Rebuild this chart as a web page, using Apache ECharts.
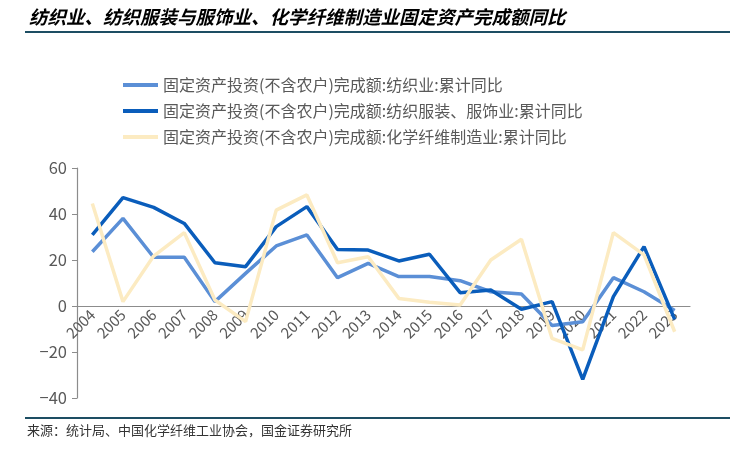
<!DOCTYPE html>
<html>
<head>
<meta charset="utf-8">
<script src="https://cdn.jsdelivr.net/npm/echarts@6/dist/echarts.min.js"></script>
<style>
html,body{margin:0;padding:0;background:#fff;}
#chart{width:747px;height:461px;}
</style>
</head>
<body>
<div id="chart"></div>
<script>
var categories = ['2004','2005','2006','2007','2008','2009','2010','2011','2012','2013','2014','2015','2016','2017','2018','2019','2020','2021','2022','2023'];
var textile = [23.6,38.1,21.2,21.2,1.9,14.2,26.1,30.9,12.3,18.5,12.8,12.8,11.0,6.2,5.2,-8.5,-6.8,12.3,6.2,-2.0];
var apparel = [30.9,47.1,42.9,35.9,18.8,17.1,34.5,43.2,24.6,24.3,19.6,22.5,5.8,7.0,-1.4,1.9,-31.9,4.1,25.8,-5.8];
var chemFiber = [44.6,1.9,21.7,31.9,2.6,-6.8,41.7,48.3,18.8,21.4,3.3,1.6,0.4,20.0,29.0,-14.1,-19.1,31.9,22.2,-11.2];
var seriesNames = ['固定资产投资(不含农户)完成额:纺织业:累计同比','固定资产投资(不含农户)完成额:纺织服装、服饰业:累计同比','固定资产投资(不含农户)完成额:化学纤维制造业:累计同比'];
var yTicks = {min:-40, max:60, interval:20};
var titleText = '纺织业、纺织服装与服饰业、化学纤维制造业固定资产完成额同比';
var sourceText = '来源：统计局、中国化学纤维工业协会，国金证券研究所';

var font = '"Noto Sans CJK SC", "Noto Sans", sans-serif';
var gridTop = 168, gridBottom = 63, chartH = 461;
var plotH = chartH - gridTop - gridBottom;
// place x axis at value 0
var zeroOffset = -plotH * (0 - yTicks.min) / (yTicks.max - yTicks.min);

var chart = echarts.init(document.getElementById('chart'));
function mkSeries(name, data, color){
  return {name:name, type:'line', data:data, symbol:'none', smooth:false,
    lineStyle:{color:color, width:3.5}, itemStyle:{color:color}};
}
chart.setOption({
  backgroundColor:'#fff',
  animation:false,
  textStyle:{fontFamily:font},
  title:{text:titleText, left:24, top:3,
    textStyle:{fontSize:18.5, fontWeight:'bold', fontStyle:'italic', color:'#000', fontFamily:font}},
  graphic:[
    {type:'rect', shape:{x:25, y:31, width:705, height:2}, style:{fill:'#1d4e63'}},
    {type:'rect', shape:{x:25, y:417, width:705, height:2}, style:{fill:'#1d4e63'}},
    {type:'text', left:27, top:424, style:{text:sourceText, fontSize:13, fill:'#333', fontFamily:font}}
  ],
  legend:{orient:'vertical', left:118, top:72, itemWidth:35, itemHeight:4, itemGap:10,
    icon:'rect',
    textStyle:{fontSize:16, color:'#595959', fontFamily:font},
    data:seriesNames},
  grid:{left:77, right:57, top:gridTop, bottom:gridBottom, containLabel:false},
  xAxis:{type:'category', data:categories, boundaryGap:true,
    offset:zeroOffset,
    axisLine:{onZero:false, lineStyle:{color:'#8c8c8c', width:1.2}},
    axisTick:{inside:true, length:5, lineStyle:{color:'#8c8c8c'}},
    axisLabel:{rotate:45, fontSize:15, color:'#595959', margin:6, interval:0}},
  yAxis:{type:'value', min:yTicks.min, max:yTicks.max, interval:yTicks.interval,
    splitLine:{show:false},
    axisLine:{show:true, lineStyle:{color:'#8c8c8c', width:1.2}},
    axisTick:{show:true, length:5, lineStyle:{color:'#8c8c8c'}},
    axisLabel:{fontSize:16.5, color:'#595959', margin:10,
      formatter:function(v){return String(v).replace('-','\u2212');}}},
  series:[
    mkSeries(seriesNames[0], textile, '#5b8fd6'),
    mkSeries(seriesNames[1], apparel, '#0a5dbb'),
    mkSeries(seriesNames[2], chemFiber, '#fcebc2')
  ]
});
</script>
</body>
</html>
